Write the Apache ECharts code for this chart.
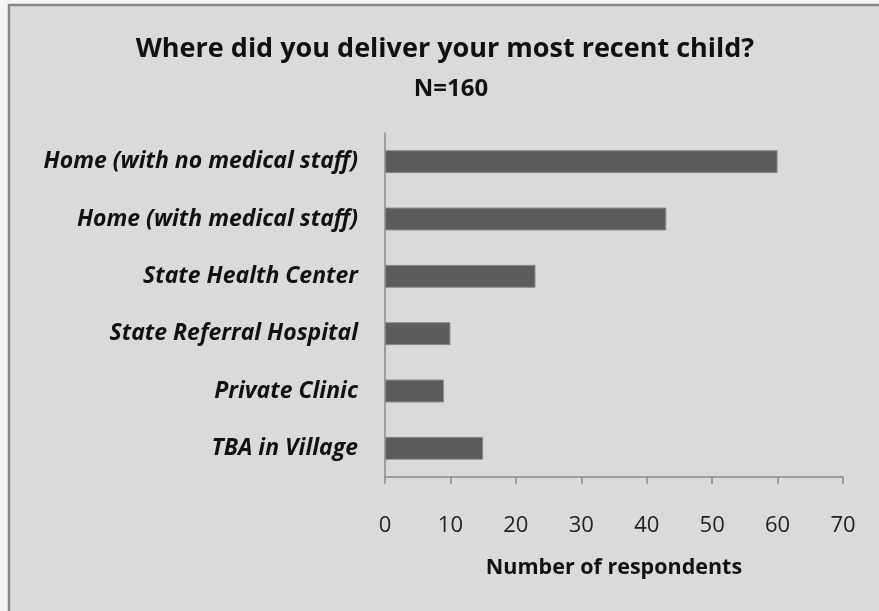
<!DOCTYPE html>
<html><head><meta charset="utf-8">
<script src="https://cdn.jsdelivr.net/npm/echarts@6/dist/echarts.min.js"></script>
<style>html,body{margin:0;padding:0;background:#f4f4f4;}#c{width:879px;height:611px;}</style>
</head><body><div id="c"></div>
<script>
const categories = ["TBA in Village","Private Clinic","State Referral Hospital","State Health Center","Home (with medical staff)","Home (with no medical staff)"];
const respondents = [15, 9, 10, 23, 43, 60];
const xTicks = {min: 0, max: 70, interval: 10};
const titleText = "Where did you deliver your most recent child?";
const subText = "N=160";
const xName = "Number of respondents";

const chart = echarts.init(document.getElementById('c'));
const FONT = 'Open Sans';
chart.setOption({
  backgroundColor: 'transparent',
  graphic: [{type:'rect', z:-10, shape:{x:9,y:5,width:900,height:700}, style:{fill:'#d9dad9', stroke:'#878787', lineWidth:2.5}}],
  title: [
    {text: titleText, left: 440, textAlign:'center', top: 31, textStyle:{fontFamily:FONT, fontSize:27, fontWeight:'bold', color:'#111'}},
    {text: subText, left: 446, textAlign:'center', top: 72, textStyle:{fontFamily:FONT, fontSize:24, fontWeight:'bold', color:'#111'}}
  ],
  grid: {left: 385, right: 36, top: 133, bottom: 134, containLabel:false},
  xAxis: {type:'value', min:xTicks.min, max:xTicks.max, interval:xTicks.interval,
    name: xName, nameLocation:'middle', nameGap: 80,
    nameTextStyle:{fontFamily:FONT, fontSize:21.5, fontWeight:'bold', color:'#111'},
    axisLine:{show:true, lineStyle:{color:'#8a8a8a', width:1.5}},
    axisTick:{show:true, length:7, lineStyle:{color:'#8a8a8a', width:1.5}},
    splitLine:{show:false},
    axisLabel:{fontFamily:FONT, fontSize:22, color:'#222', margin:38}
  },
  yAxis: {type:'category', data: categories,
    axisLine:{show:true, lineStyle:{color:'#8a8a8a', width:1.5}},
    axisTick:{show:false},
    axisLabel:{fontFamily:FONT, fontSize:23, fontWeight:'bold', fontStyle:'italic', color:'#111', margin:27}
  },
  series: [{type:'bar', data: respondents, barCategoryGap:'60%',
    itemStyle:{color:'#5c5c5c', borderColor:'#8a8a8a', borderWidth:1}, animation:false}]
});
</script></body></html>
